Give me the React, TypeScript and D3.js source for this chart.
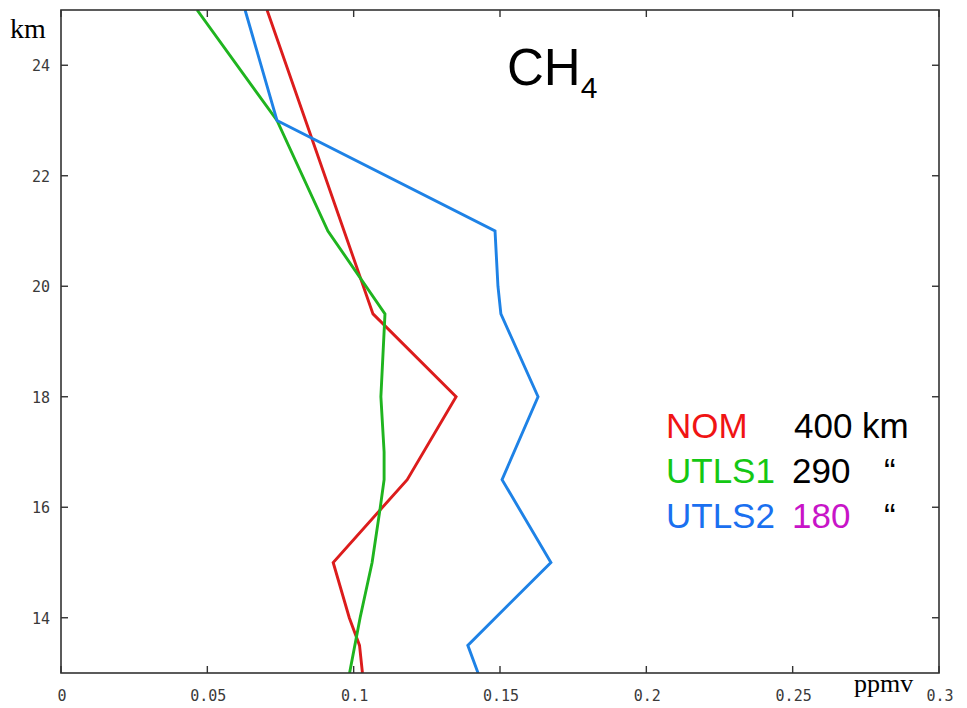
import React from "react";
import * as d3 from "d3";

// CH4 profiles: altitude (km) vs mixing ratio error (ppmv)
const nomKm = [25, 19.5, 18, 16.5, 15, 14, 13.5, 13];
const nomPpmv = [0.0704, 0.1066, 0.135, 0.1183, 0.093, 0.0985, 0.102, 0.103];

const utls1Km = [25, 23, 21, 19.5, 18, 17, 16.5, 16, 15, 14, 13];
const utls1Ppmv = [0.0465, 0.0738, 0.0912, 0.1107, 0.1093, 0.1104, 0.1104, 0.1091, 0.1063, 0.1022, 0.0986];

const utls2Km = [25, 23, 21, 20, 19.5, 18, 16.5, 15, 13.5, 13];
const utls2Ppmv = [0.0629, 0.0738, 0.1483, 0.1493, 0.1503, 0.163, 0.1507, 0.1674, 0.139, 0.1425];

const xTicks = [0, 0.05, 0.1, 0.15, 0.2, 0.25, 0.3];
const xTickLabels = ["0", "0.05", "0.1", "0.15", "0.2", "0.25", "0.3"];
const yTicks = [14, 16, 18, 20, 22, 24];

const W = 967;
const H = 708;
const plot = { left: 61, right: 939, top: 10, bottom: 673 };

export default function App() {
  const x = d3.scaleLinear().domain([0, 0.3]).range([plot.left, plot.right]);
  const y = d3.scaleLinear().domain([13, 25]).range([plot.bottom, plot.top]);

  const line = d3
    .line<[number, number]>()
    .x((d) => x(d[0]))
    .y((d) => y(d[1]));

  const series = [
    { km: nomKm, v: nomPpmv, color: "#dc1c1c" },
    { km: utls1Km, v: utls1Ppmv, color: "#1fb41f" },
    { km: utls2Km, v: utls2Ppmv, color: "#1e82e6" },
  ];

  const tickLen = 7;
  const monoFont = "'DejaVu Sans Mono', monospace";
  const sans = "'Liberation Sans', Arial, sans-serif";
  const serif = "'Liberation Serif', 'Times New Roman', serif";

  return (
    <svg
      width={W}
      height={H}
      style={{ position: "absolute", left: 0, top: 0, background: "#fff" }}
    >
      <defs>
        <clipPath id="plotClip">
          <rect
            x={plot.left}
            y={plot.top}
            width={plot.right - plot.left}
            height={plot.bottom - plot.top}
          />
        </clipPath>
      </defs>

      {/* profile lines */}
      <g clipPath="url(#plotClip)">
        {series.map((s, i) => (
          <path
            key={i}
            d={line(s.v.map((v, j) => [v, s.km[j]] as [number, number])) || ""}
            fill="none"
            stroke={s.color}
            strokeWidth={2.9}
            strokeLinejoin="miter"
          />
        ))}
      </g>

      {/* frame */}
      <rect
        x={plot.left}
        y={plot.top}
        width={plot.right - plot.left}
        height={plot.bottom - plot.top}
        fill="none"
        stroke="#333"
        strokeWidth={1.6}
      />

      {/* x ticks, inward on bottom and top */}
      {xTicks.map((t, i) => (
        <g key={"x" + i}>
          <line x1={x(t)} x2={x(t)} y1={plot.bottom} y2={plot.bottom - tickLen} stroke="#333" strokeWidth={1.4} />
          <line x1={x(t)} x2={x(t)} y1={plot.top} y2={plot.top + tickLen} stroke="#333" strokeWidth={1.4} />
          <text
            x={x(t) + 1}
            y={701}
            textAnchor="middle"
            fontFamily={monoFont}
            fontSize={15}
            fill="#3a3a3a"
          >
            {xTickLabels[i]}
          </text>
        </g>
      ))}

      {/* y ticks, inward on left and right */}
      {yTicks.map((t) => (
        <g key={"y" + t}>
          <line x1={plot.left} x2={plot.left + tickLen} y1={y(t)} y2={y(t)} stroke="#333" strokeWidth={1.4} />
          <line x1={plot.right} x2={plot.right - tickLen} y1={y(t)} y2={y(t)} stroke="#333" strokeWidth={1.4} />
          <text
            x={50}
            y={y(t) + 6}
            textAnchor="end"
            fontFamily={monoFont}
            fontSize={15}
            fill="#3a3a3a"
          >
            {t}
          </text>
        </g>
      ))}

      {/* axis units */}
      <text x={10} y={38} fontFamily={serif} fontSize={28} fill="#000">
        km
      </text>
      <text x={854} y={692} fontFamily={serif} fontSize={26} fill="#000">
        ppmv
      </text>

      {/* species title */}
      <text x={507} y={85} fontFamily={sans} fontSize={51} fill="#000">
        CH
        <tspan fontSize={30} dy={13}>
          4
        </tspan>
      </text>

      {/* legend */}
      <g fontFamily={sans} fontSize={35}>
        <text x={666} y={438} fill="#f01414">NOM</text>
        <text x={794} y={438} fill="#000">400 km</text>
        <text x={666} y={483} fill="#14c814">UTLS1</text>
        <text x={792} y={483} fill="#000">290</text>
        <text x={884} y={483} fill="#000">“</text>
        <text x={666} y={528} fill="#1a70f0">UTLS2</text>
        <text x={792} y={528} fill="#c814c8">180</text>
        <text x={884} y={528} fill="#000">“</text>
      </g>
    </svg>
  );
}
